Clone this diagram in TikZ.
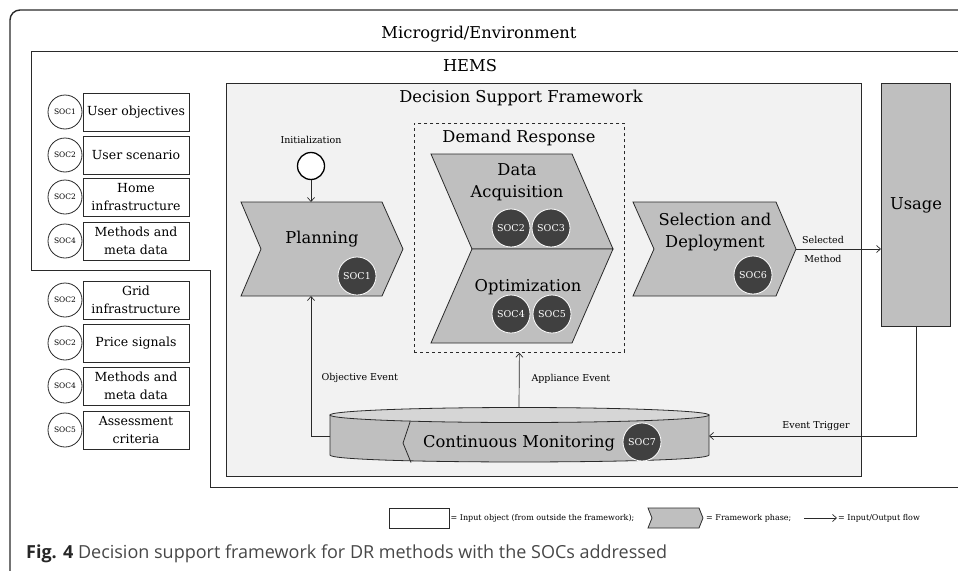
\documentclass[tikz,border=0pt]{standalone}
\usepackage{fontspec}
\setmainfont{DejaVu Serif}
\newfontfamily\capfont{Open Sans}
\usetikzlibrary{arrows.meta,calc}
\definecolor{phasegray}{HTML}{BFBFBF}
\definecolor{fwbg}{HTML}{F2F2F2}
\definecolor{socdark}{HTML}{404040}
\definecolor{cyltop}{HTML}{D6D6D6}
\definecolor{linegray}{HTML}{2A2A2A}
\newcommand\fsz[2]{\fontsize{#1}{#2}\selectfont}
\tikzset{
  phasebox/.style={draw=linegray, fill=phasegray, line width=0.8pt},
  darksoc/.style={circle, fill=socdark, draw=white, line width=0.8pt, text=white, inner sep=0pt, minimum size=38pt, font=\fsz{9.5}{11}},
  insoc/.style={circle, draw=linegray, fill=white, line width=0.8pt, inner sep=0pt, minimum size=34pt, font=\fsz{7.5}{9}},
  inbox/.style={draw=linegray, fill=white, line width=0.8pt, minimum width=106pt, minimum height=38pt, inner sep=0pt, align=center, font=\fsz{12.5}{17.5}},
  flow/.style={-{Straight Barb[length=4pt,width=7pt]}, line width=0.7pt, draw=linegray},
  small/.style={font=\fsz{9.5}{12}},
  title/.style={font=\fsz{16.3}{19}},
  phasetext/.style={font=\fsz{16.3}{22}, align=center},
  legtext/.style={font=\fsz{8}{9}, anchor=west, inner sep=1pt},
}
\begin{document}
\begin{tikzpicture}[x=1pt,y=-1pt]
\useasboundingbox (0,0) rectangle (958,570);
% outer frame
\draw[line width=1.4pt, draw=linegray, rounded corners=10pt] (10,575) -- (10,10) -- (965,10);
\node[title] (mg) at (479,34) {Microgrid/Environment};
% HEMS boundary
\draw[line width=0.9pt, draw=linegray] (965,51) -- (31,51) -- (31,270) -- (210,270) -- (210,487) -- (965,487);
\node[title] (hems) at (470,66) {HEMS};
% framework box
\node[draw=linegray, fill=fwbg, line width=0.9pt, minimum width=635pt, minimum height=393pt, inner sep=0pt, anchor=north west] (dsf) at (226,83) {};
\node[title] (dsft) at (521,98) {Decision Support Framework};
% usage
\node[draw=linegray, fill=phasegray, line width=0.9pt, minimum width=69pt, minimum height=243pt, inner sep=0pt, anchor=north west, font=\fsz{16.3}{19}] (usage) at (881,83) {Usage};
% left input objects
\foreach \i/\y/\s/\t in {1/112/SOC1/User objectives, 2/155/SOC2/User scenario, 3/197/SOC2/Home\\infrastructure, 4/241/SOC4/Methods and\\meta data, 5/300/SOC2/Grid\\infrastructure, 6/343/SOC2/Price signals, 7/386/SOC4/Methods and\\meta data, 8/430/SOC5/Assessment\\criteria}{
  \node[inbox] (in\i) at (136,\y) {\t};
  \node[insoc] (insoc\i) at (65,\y) {\s};
}
% initialization
\node[small] (initt) at (311,140) {Initialization};
\node[circle, draw=black, line width=1.3pt, fill=white, minimum size=27pt, inner sep=0pt] (init) at (311,166) {};
% planning
\path[phasebox] (241,202) -- (382,202) -- (403,249) -- (382,296) -- (241,296) -- (261,249) -- cycle;
\coordinate (plantop) at (311,202);
\coordinate (planbot) at (311,296);
\node[phasetext] (plan) at (322,239) {Planning};
\node[darksoc] (soc1) at (357,276) {SOC1};
% demand response
\node[draw=linegray, dashed, line width=0.8pt, minimum width=210pt, minimum height=229pt, inner sep=0pt, anchor=north west] (dr) at (414,123) {};
\node[title] (drt) at (519,138) {Demand Response};
\path[phasebox] (431,154) -- (572,154) -- (613,249) -- (472,249) -- cycle;
\path[phasebox] (472,249) -- (613,249) -- (572,343) -- (431,343) -- cycle;
\node[phasetext] (daq) at (517,182) {Data\\Acquisition};
\node[darksoc] (soc2) at (511,228) {SOC2};
\node[darksoc] (soc3) at (551,228) {SOC3};
\node[phasetext] (opt) at (528,287) {Optimization};
\node[darksoc] (soc4) at (511,314) {SOC4};
\node[darksoc] (soc5) at (552,314) {SOC5};
% selection and deployment
\path[phasebox] (633,202) -- (776,202) -- (796,249) -- (776,296) -- (633,296) -- (654,249) -- cycle;
\coordinate (seltip) at (796,249);
\node[phasetext] (sel) at (715,232) {Selection and\\Deployment};
\node[darksoc] (soc6) at (753,275) {SOC6};
% continuous monitoring
\path[phasebox] (330,415) -- (330,455) .. controls (330,464.3) and (709,464.3) .. (709,455) -- (709,415) -- cycle;
\draw[draw=linegray, fill=cyltop, line width=0.8pt] (519.5,415) ellipse [x radius=189.5, y radius=7.5];
\draw[draw=linegray, line width=0.8pt] (410,422) -- (403,443) -- (411,462.5);
\coordinate (cmleft) at (330,436);
\coordinate (cmtop) at (519,407.5);
\coordinate (cmright) at (709,436);
\node[phasetext] (cm) at (519,443) {Continuous Monitoring};
\node[darksoc] (soc7) at (642,442) {SOC7};
% flows
\draw[flow] (init) -- (plantop);
\draw[flow] (cmleft) -| (planbot);
\node[small, anchor=west] (objev) at (318,378) {Objective Event};
\draw[flow] (cmtop) -- (dr.south);
\node[small, anchor=west] (appev) at (528,379) {Appliance Event};
\draw[flow] (usage.south) |- (cmright);
\node[small] (evtr) at (816,426) {Event Trigger};
\draw[flow] (seltip) -- (seltip -| usage.west);
\node[small] (selm) at (823,240) {Selected};
\node[small] (meth) at (823,259) {Method};
% legend
\node[draw=linegray, fill=white, line width=0.8pt, minimum width=60pt, minimum height=20pt, inner sep=0pt] (lgbox) at (419,518) {};
\node[legtext] (lgt1) at (lgbox.east) {= Input object (from outside the framework);};
\path[phasebox] (648,508) -- (699,508) -- (703,518) -- (699,528) -- (648,528) -- (652,518) -- cycle;
\coordinate (lgchev) at (703,518);
\node[legtext] (lgt2) at (705,518) {= Framework phase;};
\coordinate (lga) at (804,518);
\node[legtext] (lgt3) at (837,518) {= Input/Output flow};
\draw[flow] (lga) -- (lgt3.west);
% caption
\node[anchor=west, inner sep=0pt, font=\capfont\fsz{18}{20}, text=black!72] (cap) at (26,554) {\textcolor{black!85}{\textbf{Fig. 4}} Decision support framework for DR methods with the SOCs addressed};
\end{tikzpicture}
\end{document}
